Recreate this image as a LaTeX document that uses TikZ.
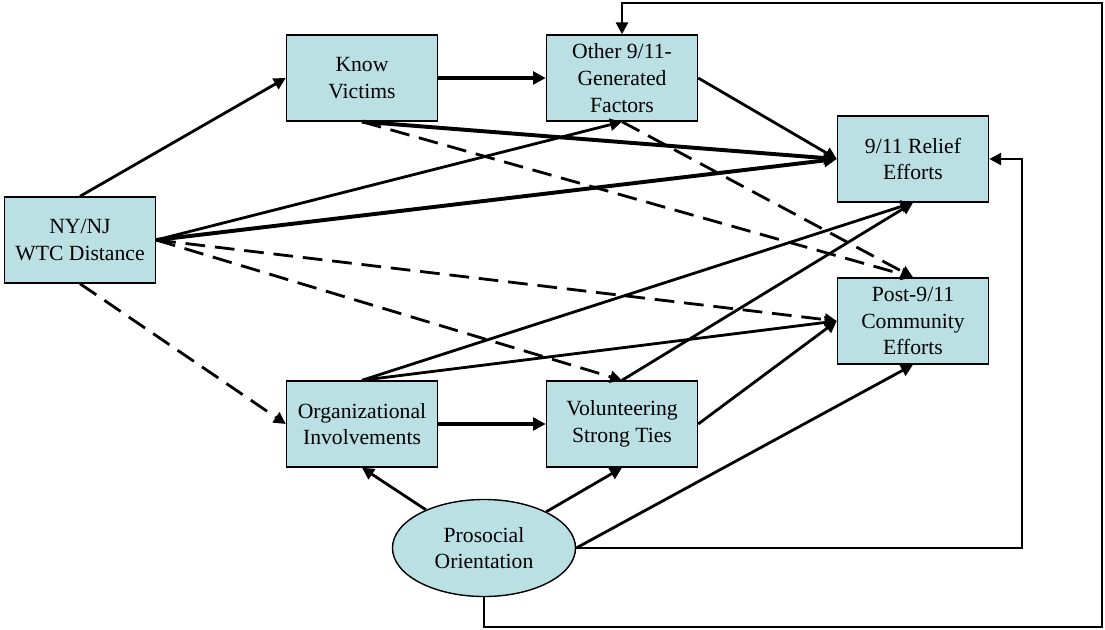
\documentclass[tikz,border=0pt]{standalone}
\usepackage{fontspec}
\setmainfont{Liberation Serif}
\usepackage{xcolor}
\usetikzlibrary{arrows.meta,positioning,shapes.geometric}
\definecolor{boxfill}{RGB}{187,224,227}
\tikzset{
  factor/.style={rectangle,draw,line width=1pt,fill=boxfill,minimum width=3.775cm,minimum height=2.15cm,align=center,font=\fontsize{15.4}{19}\selectfont},
  trait/.style={ellipse,draw,line width=1pt,fill=boxfill,minimum width=4.575cm,minimum height=2.425cm,inner sep=0pt,align=center,font=\fontsize{15.4}{19}\selectfont},
  link/.style={line width=2pt,-{Triangle[length=8.5pt,width=8.5pt]}},
  strong/.style={line width=2.8pt,-{Triangle[length=9pt,width=9pt]}},
  weak/.style={line width=2pt,dash pattern=on 14pt off 7pt,-{Triangle[length=8.5pt,width=8.5pt]}}
}
\begin{document}
\begin{tikzpicture}[x=0.025cm,y=-0.025cm]
    \useasboundingbox (0,0) rectangle (1105,630);

    % Factors
    \node[factor] (dist) at (80,240) {NY/NJ\\WTC Distance};
    \node[factor] (know) at (362,78) {Know\\Victims};
    \node[factor] (other) at (622,78) {Other 9/11-\\Generated\\Factors};
    \node[factor] (relief) at (913,159) {9/11 Relief\\Efforts};
    \node[factor] (post) at (913,321) {Post-9/11\\Community\\Efforts};
    \node[factor] (org) at (362,424) {Organizational\\Involvements};
    \node[factor] (vol) at (622,424) {Volunteering\\Strong Ties};
    \node[trait] (pro) at (484,548) {Prosocial\\Orientation};

    % Paths from distance
    \draw[link] (dist.north) -- (know.west);
    \draw[weak] (dist.south) -- (org.west);
    \draw[link] (dist.east) -- (other.south);
    \draw[strong] (dist.east) -- (relief.west);
    \draw[weak] (dist.east) -- (post.west);
    \draw[weak] (dist.east) -- (vol.north);

    % Paths from victims and other factors
    \draw[strong] (know.east) -- (other.west);
    \draw[strong] (know.south) -- (relief.west);
    \draw[weak] (know.south) -- (post.north);
    \draw[link] (other.east) -- (relief.west);
    \draw[weak] (other.south) -- (post.north);

    % Paths from involvements and ties
    \draw[link] (org.north) -- (relief.south);
    \draw[link] (org.north) -- (post.west);
    \draw[strong] (org.east) -- (vol.west);
    \draw[link] (vol.north) -- (relief.south);
    \draw[link] (vol.east) -- (post.west);

    % Paths from orientation
    \draw[link] (pro) -- (org.south);
    \draw[link] (pro) -- (vol.south);
    \draw[link] (pro.east) -- (post.south);
    \coordinate (turnA) at (1022,548);
    \draw[link] (pro.east) -- (turnA) |- (relief.east);
    \coordinate (turnB) at (1102,627);
    \coordinate (turnC) at (1102,3);
    \draw[link] (pro.south) |- (turnB) -- (turnC) -| (other.north);
\end{tikzpicture}
\end{document}
